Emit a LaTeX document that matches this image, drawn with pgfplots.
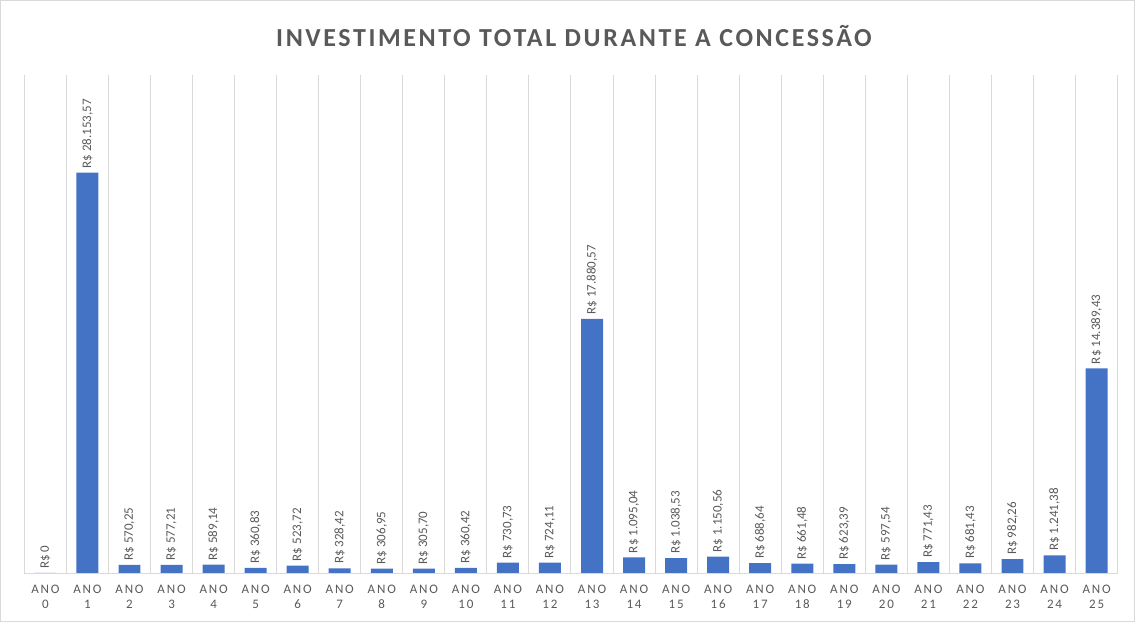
\documentclass[border=0pt]{standalone}
\usepackage{fontspec}
\setmainfont{Carlito}
\usepackage{pgfplots}
\usepackage{pgfplotstable}
\pgfplotsset{compat=1.18}
\definecolor{barblue}{HTML}{4472C4}
\definecolor{gridgrey}{HTML}{D9D9D9}
\definecolor{txtgrey}{HTML}{595959}

\pgfplotstableread[col sep=semicolon]{
x;y;lbl
0;0;R\$ 0
1;28153.57;R\$ 28.153,57
2;570.25;R\$ 570,25
3;577.21;R\$ 577,21
4;589.14;R\$ 589,14
5;360.83;R\$ 360,83
6;523.72;R\$ 523,72
7;328.42;R\$ 328,42
8;306.95;R\$ 306,95
9;305.70;R\$ 305,70
10;360.42;R\$ 360,42
11;730.73;R\$ 730,73
12;724.11;R\$ 724,11
13;17880.57;R\$ 17.880,57
14;1095.04;R\$ 1.095,04
15;1038.53;R\$ 1.038,53
16;1150.56;R\$ 1.150,56
17;688.64;R\$ 688,64
18;661.48;R\$ 661,48
19;623.39;R\$ 623,39
20;597.54;R\$ 597,54
21;771.43;R\$ 771,43
22;681.43;R\$ 681,43
23;982.26;R\$ 982,26
24;1241.38;R\$ 1.241,38
25;14389.43;R\$ 14.389,43
}\invest

\begin{document}
\begin{tikzpicture}
\begin{axis}[
  scale only axis, width=547pt, height=249pt,
  xmin=-0.5, xmax=25.5, ymin=0, ymax=35000,
  axis x line*=bottom, axis y line=none,
  x axis line style={draw=gridgrey},
  xtick={0,...,25},
  xticklabels={{ANO\\0},{ANO\\1},{ANO\\2},{ANO\\3},{ANO\\4},{ANO\\5},{ANO\\6},{ANO\\7},{ANO\\8},{ANO\\9},{ANO\\10},{ANO\\11},{ANO\\12},{ANO\\13},{ANO\\14},{ANO\\15},{ANO\\16},{ANO\\17},{ANO\\18},{ANO\\19},{ANO\\20},{ANO\\21},{ANO\\22},{ANO\\23},{ANO\\24},{ANO\\25}},
  xticklabel style={align=center, text=txtgrey, font=\fontsize{6.5}{7.5}\selectfont\addfontfeature{LetterSpace=14}, inner sep=1pt, yshift=-5pt},
  major tick length=0pt, minor tick length=0pt,
  minor xtick={-0.5,0.5,...,25.5},
  xminorgrids=true, minor grid style={gridgrey, line width=0.5pt},
  ybar, bar width=11pt,
  nodes near coords,
  point meta=explicit symbolic,
  every node near coord/.append style={rotate=90, anchor=west, text=txtgrey, font=\fontsize{6.5}{7.5}\selectfont, inner sep=2pt},
]
\addplot[fill=barblue, draw=none] table[x=x, y=y, meta=lbl] {\invest};
\end{axis}
\draw[gridgrey] (-12pt,-24pt) rectangle (555.5pt,286.5pt);
\node[text=txtgrey, font=\fontsize{13}{15}\selectfont\bfseries\addfontfeature{LetterSpace=10}] at (275pt,268.5pt) {INVESTIMENTO TOTAL DURANTE A CONCESSÃO};
\end{tikzpicture}
\end{document}
